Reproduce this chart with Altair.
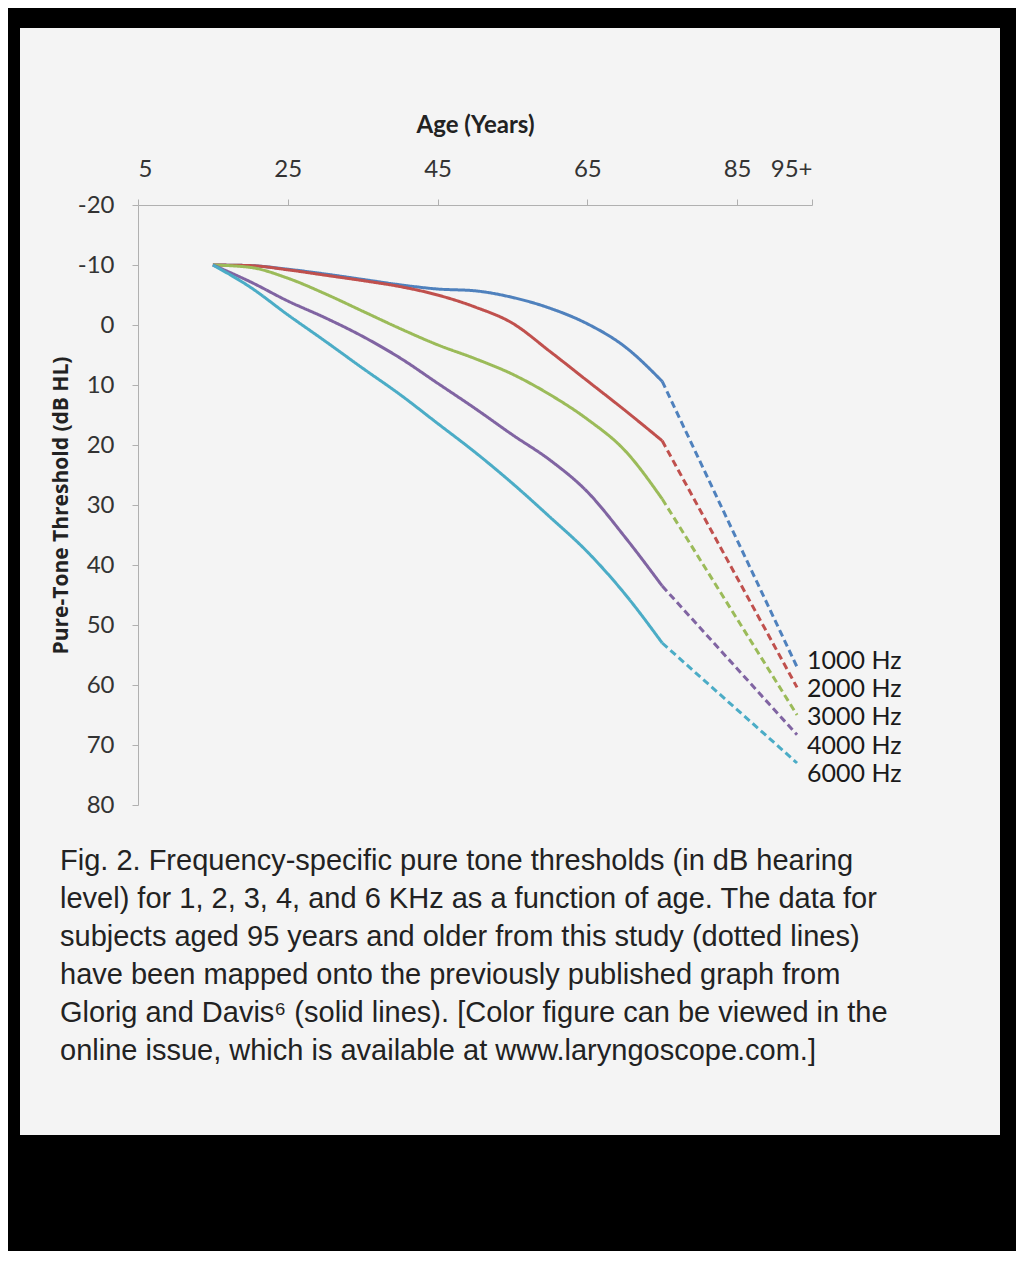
import altair as alt
import pandas as pd

# ---------------- data ----------------
freq_labels = ["1000 Hz", "2000 Hz", "3000 Hz", "4000 Hz", "6000 Hz"]
line_colors = ["#4f81bd", "#c0504d", "#9bbb59", "#8064a2", "#4bacc6"]

# Glorig & Davis curves (solid lines), ages in years, thresholds in dB HL
ages_solid = [15, 20, 25, 30, 35, 40, 45, 50, 55, 60, 65, 70, 75]
hz1000 = [-10, -9.9, -9.3, -8.5, -7.6, -6.7, -6.0, -5.7, -4.6, -2.8, -0.2, 3.6, 9.4]
hz2000 = [-10, -9.9, -9.2, -8.3, -7.4, -6.4, -5.0, -3.0, -0.3, 4.4, 9.3, 14.2, 19.3]
hz3000 = [-10, -9.6, -7.8, -5.2, -2.3, 0.6, 3.3, 5.6, 8.2, 11.6, 15.7, 20.9, 29.0]
hz4000 = [-10, -7.2, -4.0, -1.2, 1.9, 5.5, 9.7, 13.9, 18.3, 22.5, 27.8, 35.3, 43.5]
hz6000 = [-10, -6.3, -1.7, 2.7, 7.2, 11.6, 16.4, 21.2, 26.4, 32.0, 37.8, 44.8, 53.0]
solid_series = [hz1000, hz2000, hz3000, hz4000, hz6000]

# this study's 95+ data (dotted lines)
age_95plus = 93
thresholds_95plus = [57.0, 60.4, 65.0, 68.3, 73.0]
label_db = [56.0, 60.7, 65.4, 70.1, 74.8]

x_ticks = [5, 25, 45, 65, 85, 95]
y_ticks = [-20, -10, 0, 10, 20, 30, 40, 50, 60, 70, 80]

caption_lines = [
    "Fig. 2. Frequency-specific pure tone thresholds (in dB hearing",
    "level) for 1, 2, 3, 4, and 6 KHz as a function of age. The data for",
    "subjects aged 95 years and older from this study (dotted lines)",
    "have been mapped onto the previously published graph from",
    "Glorig and Davis\u2076 (solid lines). [Color figure can be viewed in the",
    "online issue, which is available at www.laryngoscope.com.]",
]

# ---------------- tables ----------------
rows = []
for f, series, end in zip(freq_labels, solid_series, thresholds_95plus):
    for a, v in zip(ages_solid, series):
        rows.append({"age": a, "db": v, "freq": f, "part": "solid"})
    rows.append({"age": ages_solid[-1], "db": series[-1], "freq": f, "part": "dashed"})
    rows.append({"age": age_95plus, "db": end, "freq": f, "part": "dashed"})
lines_df = pd.DataFrame(rows)

labels_df = pd.DataFrame({
    "age": [age_95plus] * len(freq_labels),
    "db": label_db,
    "freq": freq_labels,
})

W, H = 674, 600
FONT = "Lato"

x_enc = alt.X(
    "age:Q",
    scale=alt.Scale(domain=[5, 95], nice=False, zero=False),
    axis=alt.Axis(
        orient="top", values=x_ticks,
        labelExpr="datum.value == 95 ? '95+' : '' + datum.value",
        title="Age (Years)", titleFont=FONT, titleFontSize=24, titleFontWeight="bold",
        titleColor="#222222", titlePadding=20,
        labelFont=FONT, labelFontSize=24, labelColor="#333333", labelPadding=18,
        domainColor="#b0b0b0", tickColor="#b0b0b0", tickSize=6, grid=False, zindex=1,
    ),
)
y_enc = alt.Y(
    "db:Q",
    scale=alt.Scale(domain=[-20, 80], reverse=True, nice=False, zero=False),
    axis=alt.Axis(
        orient="left", values=y_ticks, labelExpr="'' + datum.value",
        title="Pure-Tone Threshold (dB HL)", titleFont="Open Sans", titleFontSize=21,
        titleFontWeight="bold", titleColor="#222222", titlePadding=6,
        labelFont=FONT, labelFontSize=24, labelColor="#333333", labelPadding=18,
        domainColor="#b0b0b0", tickColor="#b0b0b0", tickSize=6, grid=False, zindex=1,
    ),
)

card = alt.Chart(pd.DataFrame({"card": [0]})).mark_rect(color="#f4f4f4").encode(
    x=alt.value(-118), x2=alt.value(862), y=alt.value(-177), y2=alt.value(930)
)

lines = alt.Chart(lines_df).mark_line(strokeWidth=3, interpolate="monotone").encode(
    x=x_enc,
    y=y_enc,
    color=alt.Color("freq:N", scale=alt.Scale(domain=freq_labels, range=line_colors), legend=None),
    strokeDash=alt.StrokeDash("part:N", scale=alt.Scale(domain=["solid", "dashed"], range=[[1, 0], [7, 4]]), legend=None),
    detail="part:N",
)

labels = alt.Chart(labels_df).mark_text(
    align="left", baseline="middle", dx=10, font=FONT, fontSize=25, color="#1a1a1a"
).encode(x=x_enc, y=y_enc, text="freq:N")

caption = alt.Chart(pd.DataFrame({"c": [0]})).mark_text(
    text=caption_lines, align="left", baseline="top", lineHeight=38,
    font="Liberation Sans", fontSize=29, color="#222222",
).encode(x=alt.value(-78), y=alt.value(642))

chart = alt.layer(card, lines, labels, caption).properties(
    width=W, height=H,
    autosize=alt.AutoSizeParams(type="none"),
    padding={"left": 130, "top": 197, "right": 204, "bottom": 446},
).configure(background="#000000").configure_view(stroke="transparent")

chart.save("out.html", embed_options={"renderer": "svg", "actions": False})
